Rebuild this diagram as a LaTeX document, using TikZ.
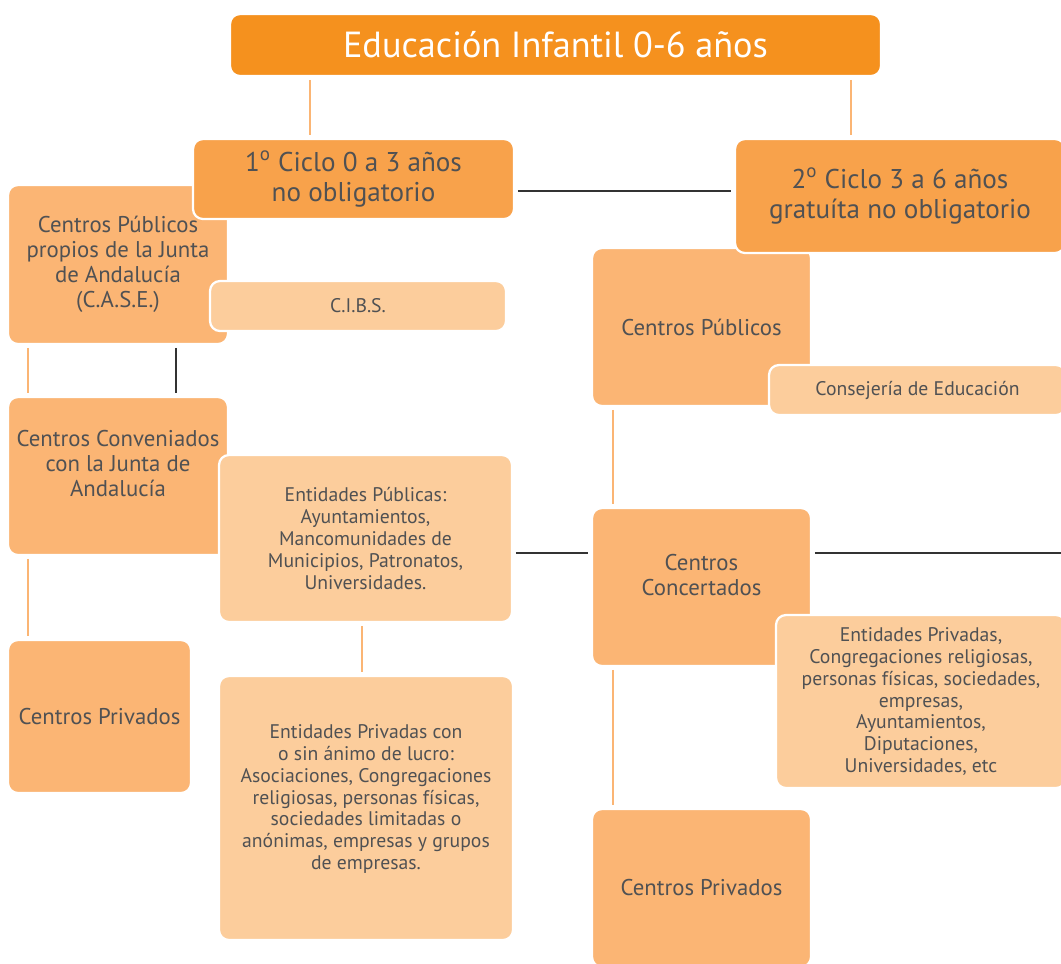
\documentclass[tikz,border=0pt]{standalone}
\usepackage{fontspec}
\setmainfont{PT Sans}

\definecolor{titleorange}{HTML}{F5911E}
\definecolor{cycleorange}{HTML}{F8A24B}
\definecolor{midorange}{HTML}{FBB574}
\definecolor{paleorange}{HTML}{FCCD9C}
\definecolor{textgray}{HTML}{505153}
\definecolor{linegray}{HTML}{333333}

\begin{document}
\begin{tikzpicture}[x=0.025cm,y=-0.025cm,
  box/.style={rounded corners=0.25cm, draw=white, line width=1.6pt, align=center, text=textgray, inner sep=2pt},
  boxsize/.style 2 args={minimum width=#1*0.025cm, minimum height=#2*0.025cm},
  titlebox/.style={box, fill=titleorange, text=white, font=\fontsize{25.8}{30}\selectfont},
  cyclebox/.style={box, fill=cycleorange, font=\fontsize{19.3}{21.3}\selectfont},
  centrebox/.style={box, fill=midorange, font=\fontsize{16.2}{17.8}\selectfont},
  entitybox/.style={box, fill=paleorange, font=\fontsize{14}{15.6}\selectfont},
  orangeline/.style={draw=midorange, line width=1.6pt, shorten >=2pt, shorten <=2pt},
  blackline/.style={draw=linegray, line width=0.8pt, shorten >=2pt, shorten <=2pt}]
\clip (0,0) rectangle (1061,963);

% columns and rows of the connectors
\coordinate (colA) at (310,0);
\coordinate (colB) at (851,0);
\coordinate (colC) at (28,0);
\coordinate (colD) at (176,0);
\coordinate (colE) at (362,0);
\coordinate (colF) at (613,0);
\coordinate (rowA) at (0,191);
\coordinate (rowB) at (0,553);
\coordinate (edgeR) at (1064,553);

\node[titlebox, boxsize={651}{62}] (title) at (555.5,45) {Educación Infantil 0-6 años};

% first cycle
\node[centrebox, boxsize={220}{159}] (cpub) at (118,264.5) {Centros Públicos\\propios de la Junta\\de Andalucía\\(C.A.S.E.)};
\node[cyclebox, boxsize={321}{80}] (c1) at (353.5,179) {1\textsuperscript{o} Ciclo 0 a 3 años\\no obligatorio};
\node[entitybox, boxsize={296}{50}] (cibs) at (358,306) {C.I.B.S.};
\node[centrebox, boxsize={220}{158}] (cconv) at (118,476) {Centros Conveniados\\con la Junta de\\Andalucía\\\mbox{}};
\node[entitybox, boxsize={293}{167}] (epub) at (365.5,538.5) {Entidades Públicas:\\Ayuntamientos,\\Mancomunidades de\\Municipios, Patronatos,\\Universidades.};
\node[centrebox, boxsize={183}{153}] (cpriv) at (99.5,716.5) {Centros Privados};
\node[entitybox, boxsize={294}{264}] (epriv) at (366,808) {Entidades Privadas con\\o sin ánimo de lucro:\\Asociaciones, Congregaciones\\religiosas, personas físicas,\\sociedades limitadas o\\anónimas, empresas y grupos\\de empresas.\\\mbox{}};

% second cycle
\node[centrebox, boxsize={219}{158}] (rpub) at (701.5,327) {Centros Públicos};
\node[cyclebox, boxsize={330}{114}] (c2) at (900,196) {2\textsuperscript{o} Ciclo 3 a 6 años\\gratuíta no obligatorio};
\node[entitybox, boxsize={297}{50}] (cons) at (917.5,390) {Consejería de Educación};
\node[centrebox, boxsize={219}{158}] (rconc) at (701.5,587) {Centros\\Concertados\\\mbox{}};
\node[entitybox, boxsize={290}{173}] (rentp) at (921,701.5) {Entidades Privadas,\\Congregaciones religiosas,\\personas físicas, sociedades,\\empresas,\\Ayuntamientos,\\Diputaciones,\\Universidades, etc};
\node[centrebox, boxsize={219}{158}] (rpriv) at (701.5,888) {Centros Privados};

% connectors
\draw[orangeline] (title.south -| colA) -- (c1.north -| colA);
\draw[orangeline] (title.south -| colB) -- (c2.north -| colB);
\draw[blackline] (c1.east |- rowA) -- (c2.west |- rowA);
\draw[orangeline] (cpub.south -| colC) -- (cconv.north -| colC);
\draw[blackline] (cpub.south -| colD) -- (cconv.north -| colD);
\draw[orangeline] (cconv.south -| colC) -- (cpriv.north -| colC);
\draw[orangeline] (epub.south -| colE) -- (epriv.north -| colE);
\draw[blackline] (epub.east |- rowB) -- (rconc.west |- rowB);
\draw[blackline] (rconc.east |- rowB) -- (edgeR);
\draw[orangeline] (rpub.south -| colF) -- (rconc.north -| colF);
\draw[orangeline] (rconc.south -| colF) -- (rpriv.north -| colF);
\end{tikzpicture}
\end{document}
